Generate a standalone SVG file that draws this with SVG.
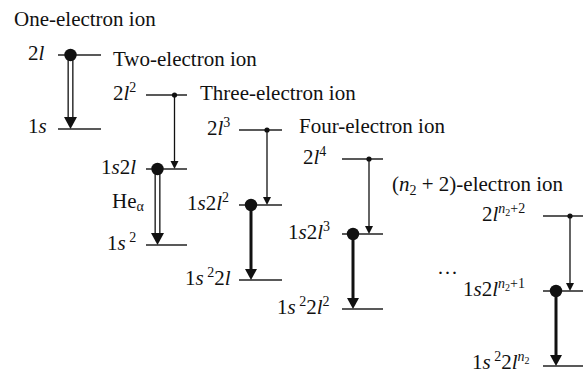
<svg xmlns="http://www.w3.org/2000/svg" width="583" height="374" viewBox="0 0 583 374">
<style>
text{font-size:21px;fill:#111}
.i{font-style:italic}
.sup{font-size:14px}
.sub{font-size:10px}
.lvl{stroke:#222;stroke-width:1.3;fill:none}
.thin{stroke:#111;stroke-width:1.3}
.thick{stroke:#111;stroke-width:3}
.dblo{stroke:#111;stroke-width:6}
.dbli{stroke:#fff;stroke-width:3.4}
.head{fill:#111}
</style>
<rect width="583" height="374" fill="#fff"/>
<g font-family="Liberation Serif, Times New Roman, serif">
<g id="titles">
<text x="14" y="26">One-electron ion</text>
<text x="113" y="66">Two-electron ion</text>
<text x="200" y="100">Three-electron ion</text>
<text x="299" y="133">Four-electron ion</text>
<text x="392" y="191">(<tspan class="i">n</tspan><tspan class="sup" dy="4">2</tspan><tspan dy="-4"> + 2)-electron ion</tspan></text>
<text x="437" y="280">···</text>
</g>
<g id="connectors">
<line class="dblo" x1="70.5" y1="55" x2="70.5" y2="118"/>
<line class="dbli" x1="70.5" y1="55" x2="70.5" y2="118"/>
<polygon class="head" points="64,117 77,117 70.5,129"/>
<line class="thin" x1="174.5" y1="95" x2="174.5" y2="162"/>
<polygon class="head" points="170.5,161 178.5,161 174.5,169"/>
<line class="dblo" x1="157.5" y1="169" x2="157.5" y2="234"/>
<line class="dbli" x1="157.5" y1="169" x2="157.5" y2="234"/>
<polygon class="head" points="151,233 164,233 157.5,245"/>
<line class="thin" x1="267" y1="130" x2="267" y2="198"/>
<polygon class="head" points="263,197 271,197 267,205"/>
<line class="thick" x1="251" y1="205" x2="251" y2="270"/>
<polygon class="head" points="245,269 257,269 251,280"/>
<line class="thin" x1="369" y1="159" x2="369" y2="227"/>
<polygon class="head" points="365,226 373,226 369,234"/>
<line class="thick" x1="353" y1="234" x2="353" y2="299"/>
<polygon class="head" points="347,298 359,298 353,309"/>
<line class="thin" x1="570" y1="216" x2="570" y2="284"/>
<polygon class="head" points="566,283 574,283 570,291"/>
<line class="thick" x1="556" y1="291" x2="556" y2="356"/>
<polygon class="head" points="550,355 562,355 556,366"/>
</g>
<g id="lvl-2l">
<line class="lvl" x1="58" y1="55" x2="101" y2="55"/>
<circle cx="70.5" cy="55" r="6.2" fill="#111"/>
<text x="28" y="60">2<tspan class="i">l</tspan></text>
</g>
<g id="lvl-1s">
<line class="lvl" x1="58" y1="129" x2="101" y2="129"/>
<text x="28" y="133">1<tspan class="i">s</tspan></text>
</g>
<g id="lvl-2l2">
<line class="lvl" x1="146" y1="95" x2="187" y2="95"/>
<circle cx="174.5" cy="95" r="2.6" fill="#111"/>
<text x="113" y="100">2<tspan class="i">l</tspan><tspan class="sup" dy="-8">2</tspan></text>
</g>
<g id="lvl-1s2l">
<line class="lvl" x1="146" y1="169" x2="187" y2="169"/>
<circle cx="157.5" cy="169" r="6.2" fill="#111"/>
<text x="101" y="174">1<tspan class="i">s</tspan>2<tspan class="i">l</tspan></text>
</g>
<g id="lbl-hea">
<text x="112" y="208">He<tspan class="sup" dy="3">α</tspan></text>
</g>
<g id="lvl-1s2">
<line class="lvl" x1="146" y1="245" x2="187" y2="245"/>
<text x="107" y="250">1<tspan class="i">s</tspan><tspan class="sup" dy="-8"> 2</tspan></text>
</g>
<g id="lvl-2l3">
<line class="lvl" x1="239" y1="130" x2="282" y2="130"/>
<circle cx="267" cy="130" r="2.6" fill="#111"/>
<text x="207" y="135">2<tspan class="i">l</tspan><tspan class="sup" dy="-8">3</tspan></text>
</g>
<g id="lvl-1s2l2">
<line class="lvl" x1="239" y1="205" x2="282" y2="205"/>
<circle cx="251" cy="205" r="6.2" fill="#111"/>
<text x="187" y="210">1<tspan class="i">s</tspan>2<tspan class="i">l</tspan><tspan class="sup" dy="-8">2</tspan></text>
</g>
<g id="lvl-1s22l">
<line class="lvl" x1="239" y1="280" x2="282" y2="280"/>
<text x="185" y="285">1<tspan class="i">s</tspan><tspan class="sup" dy="-8"> 2</tspan><tspan dy="8">2</tspan><tspan class="i">l</tspan></text>
</g>
<g id="lvl-2l4">
<line class="lvl" x1="342" y1="159" x2="383" y2="159"/>
<circle cx="369" cy="159" r="2.6" fill="#111"/>
<text x="303" y="164">2<tspan class="i">l</tspan><tspan class="sup" dy="-8">4</tspan></text>
</g>
<g id="lvl-1s2l3">
<line class="lvl" x1="342" y1="234" x2="383" y2="234"/>
<circle cx="353" cy="234" r="6.2" fill="#111"/>
<text x="288" y="239">1<tspan class="i">s</tspan>2<tspan class="i">l</tspan><tspan class="sup" dy="-8">3</tspan></text>
</g>
<g id="lvl-1s22l2">
<line class="lvl" x1="342" y1="309" x2="383" y2="309"/>
<text x="277" y="314">1<tspan class="i">s</tspan><tspan class="sup" dy="-8"> 2</tspan><tspan dy="8">2</tspan><tspan class="i">l</tspan><tspan class="sup" dy="-8">2</tspan></text>
</g>
<g id="lvl-2ln2p2">
<line class="lvl" x1="543" y1="216" x2="583" y2="216"/>
<circle cx="570" cy="216" r="2.6" fill="#111"/>
<text x="482" y="221">2<tspan class="i">l</tspan><tspan class="sup i" dy="-8">n</tspan><tspan class="sub" dy="3">2</tspan><tspan class="sup" dy="-3">+2</tspan></text>
</g>
<g id="lvl-1s2ln2p1">
<line class="lvl" x1="543" y1="291" x2="583" y2="291"/>
<circle cx="556" cy="291" r="6.2" fill="#111"/>
<text x="463" y="296">1<tspan class="i">s</tspan>2<tspan class="i">l</tspan><tspan class="sup i" dy="-8">n</tspan><tspan class="sub" dy="3">2</tspan><tspan class="sup" dy="-3">+1</tspan></text>
</g>
<g id="lvl-1s22ln2">
<line class="lvl" x1="543" y1="366" x2="583" y2="366"/>
<text x="472" y="369">1<tspan class="i">s</tspan><tspan class="sup" dy="-8"> 2</tspan><tspan dy="8">2</tspan><tspan class="i">l</tspan><tspan class="sup i" dy="-8">n</tspan><tspan class="sub" dy="3">2</tspan></text>
</g>
</g>
</svg>
